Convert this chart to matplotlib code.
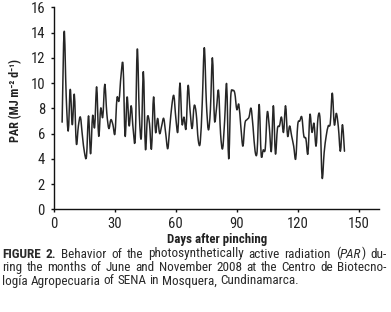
import numpy as np
import matplotlib
matplotlib.use("Agg")
import matplotlib.pyplot as plt
from matplotlib.path import Path
from matplotlib.patches import PathPatch
from matplotlib import font_manager

# ---- data ----
days = list(range(4, 144))
par = [6.9, 14.1, 9.0, 6.2, 9.5, 6.7, 9.1, 5.2, 6.6, 7.3,
       5.8, 4.5, 4.2, 7.4, 4.4, 7.4, 6.5, 9.7, 5.8, 8.0,
       7.3, 9.9, 7.6, 6.4, 7.1, 6.7, 6.0, 8.8, 8.6, 10.6,
       11.4, 5.8, 8.9, 6.6, 8.2, 6.3, 5.6, 12.7, 7.5, 5.7,
       10.9, 4.8, 7.3, 6.8, 4.8, 8.9, 6.1, 7.2, 6.0, 6.6,
       7.2, 6.0, 4.8, 6.5, 8.2, 9.0, 7.2, 6.2, 10.0, 6.8,
       7.3, 6.4, 9.8, 7.8, 6.4, 8.2, 7.6, 5.5, 5.3, 8.5,
       12.8, 8.5, 6.3, 7.9, 12.0, 7.1, 8.0, 9.4, 6.0, 4.8,
       7.0, 9.9, 4.0, 8.9, 9.4, 9.2, 7.9, 8.3, 6.5, 5.0,
       6.8, 7.1, 7.3, 8.0, 6.5, 4.6, 4.6, 8.3, 4.3, 4.7,
       4.8, 7.7, 6.5, 4.6, 8.2, 4.4, 6.4, 6.6, 7.3, 6.1,
       8.2, 5.8, 6.6, 5.8, 5.0, 4.0, 6.7, 7.0, 7.3, 5.8,
       5.6, 4.4, 7.5, 6.1, 6.8, 5.0, 7.3, 7.1, 2.5, 4.5,
       5.8, 6.6, 6.8, 9.2, 6.7, 7.6, 6.5, 4.6, 6.7, 4.6]
x_ticks = [0, 30, 60, 90, 120, 150]
y_ticks = [0, 2, 4, 6, 8, 10, 12, 14, 16]

W, H = 391, 312
available = {f.name for f in font_manager.fontManager.ttflist}
narrow = None
for cand in ['Liberation Sans Narrow', 'Roboto Condensed', 'Open Sans Condensed',
             'Noto Sans Condensed', 'DejaVu Sans Condensed']:
    if cand in available:
        narrow = cand
        break
fam = ([narrow] if narrow else []) + ['DejaVu Sans']
plt.rcParams['font.family'] = fam

fig = plt.figure(figsize=(W / 100, H / 100), dpi=100)
ax = fig.add_axes([54 / W, 1 - 209.3 / H, (379 - 54) / W, (209.3 - 7.3) / H])

# smoothed line (Bezier through the daily points, like a spreadsheet "smoothed line")
pts = np.column_stack([days, par]).astype(float)
verts = [tuple(pts[0])]
codes = [Path.MOVETO]
n = len(pts)
for i in range(n - 1):
    p0 = pts[i - 1] if i > 0 else pts[i]
    p1 = pts[i]
    p2 = pts[i + 1]
    p3 = pts[i + 2] if i + 2 < n else pts[i + 1]
    c1 = p1 + (p2 - p0) / 6.0
    c2 = p2 - (p3 - p1) / 6.0
    verts += [tuple(c1), tuple(c2), tuple(p2)]
    codes += [Path.CURVE4] * 3
ax.add_patch(PathPatch(Path(verts, codes), fill=False, edgecolor='#262626',
                       lw=1.1, joinstyle='round', capstyle='round'))

ax.set_xlim(0, 160)
ax.set_ylim(0, 16)
ax.set_xticks(x_ticks)
ax.set_yticks(y_ticks)
for s in ['top', 'right']:
    ax.spines[s].set_visible(False)
for s in ['left', 'bottom']:
    ax.spines[s].set_linewidth(1.0)
    ax.spines[s].set_color('#111111')
ax.tick_params(direction='out', length=2.5, width=1.0, color='#111111',
               labelsize=10.5, labelcolor='#222222')
ax.tick_params(axis='y', pad=4)
ax.tick_params(axis='x', pad=3)

fig.canvas.draw()
renderer = fig.canvas.get_renderer()

def measure(s, props, size):
    t = fig.text(0, 0, s, fontsize=size, **props)
    w = t.get_window_extent(renderer).width
    t.remove()
    return w

# axis titles, sized a little above the reference text lengths
xl = 'Days after pinching'
xs = 9.0 * 100 / measure(xl, dict(fontweight='bold'), 9.0)
xs = min(xs, 10)
fig.text(217 / W, 1 - 240 / H, xl, ha='center', va='center',
         fontsize=xs, fontweight='bold', color='#222222')
yl = 'PAR (MJ m\u207b\u00b2 d\u207b\u00b9)'
ys = 9.0 * 84 / measure(yl, dict(fontweight='bold'), 9.0)
ys = min(ys, 10)
fig.text(16 / W, 1 - 100 / H, yl, rotation=90,
         ha='center', va='center', fontsize=ys, fontweight='bold', color='#222222')

# ---- caption, justified ----
cap_color = '#2a2a2a'
normal = dict(fontweight='normal', fontstyle='normal')
bold = dict(fontweight='bold', fontstyle='normal')
ital = dict(fontweight='normal', fontstyle='italic')

def words_of(s, props):
    return [[(w, props)] for w in s.split()]

line1 = (words_of('FIGURE 2.', bold)
         + words_of('Behavior of the photosynthetically active radiation', normal)
         + [[('(', normal), ('PAR', ital), (')', normal)]]
         + words_of('du-', normal))
line2 = words_of('ring the months of June and November 2008 at the Centro de Biotecno-', normal)
line3 = words_of('logía Agropecuaria of SENA in Mosquera, Cundinamarca.', normal)

base = 9.0
space = measure('a b', normal, base) - measure('ab', normal, base)

def natural(words, size):
    sp = space * size / base
    return sum(sum(measure(s, p, size) for s, p in wd) for wd in words) + sp * (len(words) - 1)

total_nat = natural(line1, base) + natural(line2, base) + natural(line3, base)
size = base * (384 + 384 + 311) / total_nat
size = min(size, 9.5)

def place(words, baseline_y, x0, x1, justify):
    widths = []
    for wd in words:
        widths.append([measure(s, p, size) for s, p in wd])
    total = sum(sum(ws) for ws in widths)
    sp = space * size / base
    gap = (x1 - x0 - total) / (len(words) - 1) if justify else sp
    gap = max(gap, 1.2)
    x = x0
    for wd, ws in zip(words, widths):
        for (s, p), w in zip(wd, ws):
            fig.text(x / W, 1 - baseline_y / H, s, fontsize=size, color=cap_color,
                     ha='left', va='baseline', **p)
            x += w
        x += gap

place(line1, 257.5, 2, 386.5, True)
place(line2, 271.0, 2, 386.5, True)
place(line3, 284.5, 2, 386.5, False)

fig.savefig('out.png', dpi=100)
